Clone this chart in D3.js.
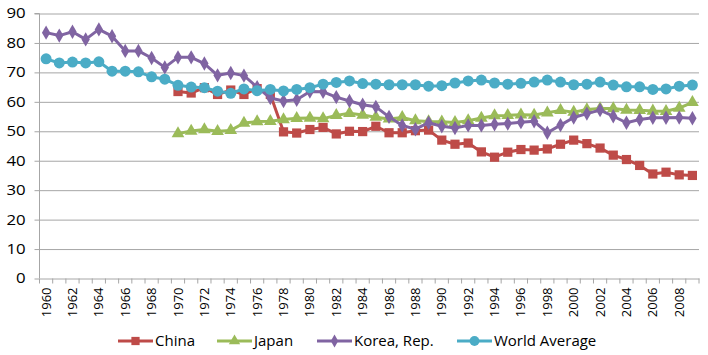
<!DOCTYPE html>
<html><head><meta charset="utf-8">
<script src="https://cdn.jsdelivr.net/npm/d3@7"></script>
<style>body{margin:0;background:#fff;} text{font-family:"Open Sans",sans-serif;fill:#000;}</style>
</head><body><svg id="c" width="708" height="355"></svg>
<script>
const years = [1960,1961,1962,1963,1964,1965,1966,1967,1968,1969,
  1970,1971,1972,1973,1974,1975,1976,1977,1978,1979,
  1980,1981,1982,1983,1984,1985,1986,1987,1988,1989,
  1990,1991,1992,1993,1994,1995,1996,1997,1998,1999,
  2000,2001,2002,2003,2004,2005,2006,2007,2008,2009];
const yTicks = [0,10,20,30,40,50,60,70,80,90];
const seriesNames = ["China","Japan","Korea, Rep.","World Average"];

const china = [null,null,null,null,null,null,null,null,null,null,
  63.5,63.0,64.8,62.5,64.0,62.5,64.5,62.5,49.8,49.4,
  50.6,51.3,49.1,50.0,49.9,51.7,49.5,49.5,50.2,50.4,
  47.0,45.6,46.0,43.0,41.2,42.9,43.8,43.6,44.0,45.6,
  47.0,45.8,44.3,41.9,40.4,38.4,35.5,36.1,35.2,35.0];
const japan = [null,null,null,null,null,null,null,null,null,null,
  49.2,50.1,50.6,50.0,50.3,52.8,53.3,53.4,54.0,54.4,
  54.5,54.3,55.4,56.1,55.5,54.8,54.2,54.7,53.6,53.3,
  53.2,53.0,53.6,54.5,55.3,55.4,55.6,55.5,56.3,57.1,
  56.5,57.4,57.7,57.7,57.2,57.1,56.9,56.8,57.9,59.8];
const korea = [83.5,82.5,83.8,81.2,84.6,82.3,77.3,77.3,74.9,71.7,
  75.1,75.1,73.0,69.0,69.8,68.9,65.0,61.3,60.3,60.7,
  63.5,63.4,61.6,60.3,59.0,58.3,54.9,52.0,50.7,52.9,
  51.7,51.1,52.0,52.0,52.4,52.6,53.1,53.4,49.5,52.1,
  54.7,56.0,57.2,55.1,52.9,54.0,54.6,54.6,54.7,54.4];
const world = [74.6,73.2,73.5,73.2,73.6,70.4,70.4,70.2,68.5,67.7,
  65.6,65.0,64.8,63.6,62.9,64.4,63.8,64.2,63.7,64.2,
  64.8,66.0,66.6,67.1,66.2,66.0,65.8,65.8,65.8,65.3,
  65.5,66.4,67.1,67.4,66.4,66.0,66.3,66.7,67.4,66.7,
  65.8,66.0,66.7,65.7,65.1,65.1,64.2,64.4,65.3,65.7];

const colors = ["#BE4B48","#9BBB59","#8064A2","#4BACC6"];
const symbols = [d3.symbolSquare, d3.symbolTriangle, d3.symbolDiamond, d3.symbolCircle];
const symSizes = [85, 70, 60, 95];
const data = [china, japan, korea, world];

const svg = d3.select("#c");
const L = 39.5, R = 699, T = 13.5, B = 278.5;
const x = d3.scaleBand().domain(years).range([L, R]).paddingInner(0).paddingOuter(0);
const y = d3.scaleLinear().domain([0, 90]).range([B, T]);

// gridlines
svg.append("g").attr("transform", `translate(${L},0)`)
  .call(d3.axisLeft(y).tickValues(yTicks.filter(v => v > 0)).tickSize(-(R - L)).tickFormat(""))
  .call(g => g.select(".domain").remove())
  .call(g => g.selectAll("line").attr("stroke", "#A6A6A6").attr("stroke-width", 1));

// y axis
const ya = svg.append("g").attr("transform", `translate(${L},0)`)
  .call(d3.axisLeft(y).tickValues(yTicks).tickSize(5).tickPadding(8));
ya.select(".domain").attr("stroke", "#A6A6A6").attr("d", `M-5,${T}H0V${B}`);
ya.selectAll("line").attr("stroke", "#A6A6A6");
ya.selectAll("text").style("font-size", "14px").attr("transform", "scale(1.2,1)").attr("x", -9/1.2 - 4);

// x axis
const xa = svg.append("g").attr("transform", `translate(0,${B})`)
  .call(d3.axisBottom(x).tickValues(years.filter(v => v % 2 === 0)).tickSize(0).tickPadding(0));
xa.select(".domain").attr("stroke", "#A6A6A6");
xa.selectAll("text").style("font-size", "13px")
  .attr("transform", "rotate(-90)").attr("text-anchor", "end").attr("x", -9).attr("y", 0).attr("dy", "0.35em");
// boundary tick marks
svg.append("g").selectAll("line").data(years.concat([null])).join("line")
  .attr("x1", (d, i) => L + i * x.step()).attr("x2", (d, i) => L + i * x.step())
  .attr("y1", B).attr("y2", B + 5).attr("stroke", "#A6A6A6");

const cx = yr => x(yr) + x.bandwidth() / 2;
const line = d3.line().defined(d => d != null).x((d, i) => cx(years[i])).y(d => y(d));

data.forEach((s, k) => {
  const g = svg.append("g");
  g.append("path").datum(s).attr("d", line).attr("fill", "none")
    .attr("stroke", colors[k]).attr("stroke-width", 3).attr("stroke-linejoin", "round");
  g.selectAll("path.m").data(s.map((v, i) => ({v, yr: years[i]})).filter(d => d.v != null))
    .join("path").attr("class", "m")
    .attr("transform", d => `translate(${cx(d.yr)},${y(d.v)})`)
    .attr("d", d3.symbol().type(symbols[k]).size(symSizes[k]))
    .attr("fill", colors[k]);
});

// legend
const legX = [118, 217, 317, 457];
const legY = 341;
const lg = svg.append("g");
seriesNames.forEach((name, k) => {
  const x0 = legX[k];
  lg.append("line").attr("x1", x0).attr("x2", x0 + 35).attr("y1", legY).attr("y2", legY)
    .attr("stroke", colors[k]).attr("stroke-width", 3);
  lg.append("path").attr("transform", `translate(${x0 + 17.5},${legY})`)
    .attr("d", d3.symbol().type(symbols[k]).size(symSizes[k] * 0.8)).attr("fill", colors[k]);
  lg.append("text").attr("x", x0 + 37).attr("y", legY).attr("dy", "0.35em")
    .style("font-size", "15px").text(name);
});
</script></body></html>
